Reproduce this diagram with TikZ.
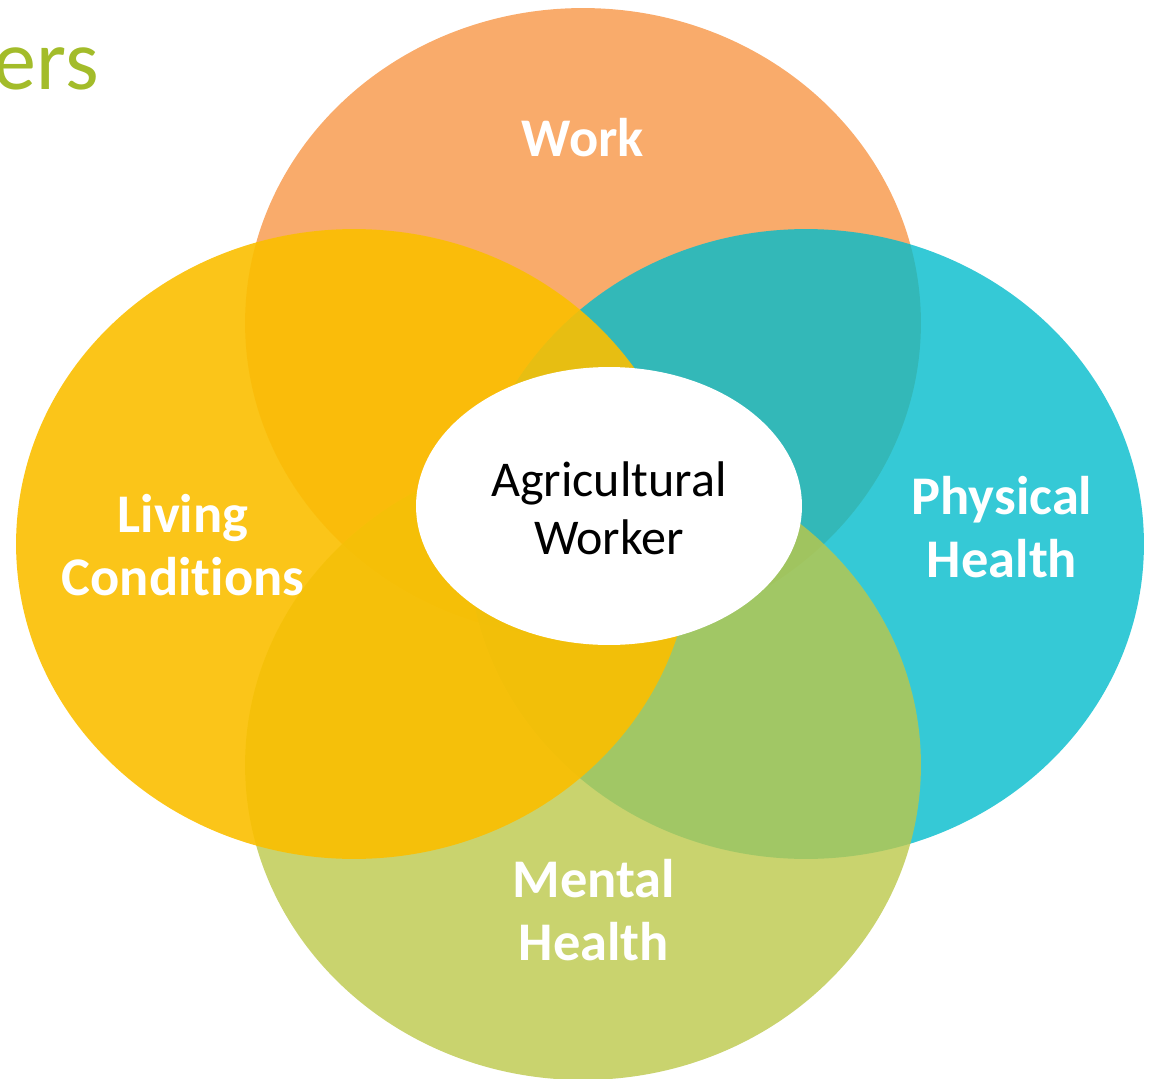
\documentclass[tikz,border=0pt]{standalone}
\usepackage{fontspec}
\setmainfont[Ligatures={NoCommon,NoContextual}]{Carlito}
\usetikzlibrary{positioning, shapes.geometric}
\definecolor{workcol}{HTML}{F79646}
\definecolor{physcol}{HTML}{03BCCC}
\definecolor{mentcol}{HTML}{BCC84A}
\definecolor{livcol}{HTML}{FBBF00}
\definecolor{titlecol}{HTML}{A3BC2A}
\begin{document}
\begin{tikzpicture}[x=0.02cm, y=-0.02cm,
  petal/.style={ellipse, draw=none, inner sep=0pt, outer sep=0pt, minimum width=13.52cm, minimum height=12.6cm},
  lbl/.style={text=white, align=center, font=\fontsize{31}{36}\selectfont\bfseries}]
  \useasboundingbox (0,0) rectangle (1159,1078);

  % Title (cut off)
  \node[anchor=base east, inner sep=0pt, text=titlecol, font=\fontsize{49}{60}\selectfont] (title) at (99,90) {ers};

  % Work
  \node[petal, fill=workcol, fill opacity=0.8] (work) at (583,323) {};
  % Physical health
  \node[petal, fill=physcol, fill opacity=0.8] (phys) at (806,544) {};
  % Mental health
  \node[petal, fill=mentcol, fill opacity=0.8] (ment) at (583,765) {};
  % Living conditions
  \node[petal, fill=livcol, fill opacity=0.9] (liv) at (354,544) {};

  % Centre
  \node[ellipse, fill=white, inner sep=0pt, minimum width=7.72cm, minimum height=5.56cm] (agri) at (609,506) {};
  \node[align=center, font=\fontsize{28.5}{33}\selectfont] (agrilbl) at (609,508) {Agricultural\\Worker};

  % Labels
  \node[lbl] (worklbl) at (583,138) {Work};
  \node[lbl] (physlbl) at (1002,527) {Physical\\Health};
  \node[lbl] (mentlbl) at (594,910) {Mental\\Health};
  \node[lbl] (livlbl) at (183,545) {Living\\Conditions};
\end{tikzpicture}
\end{document}
